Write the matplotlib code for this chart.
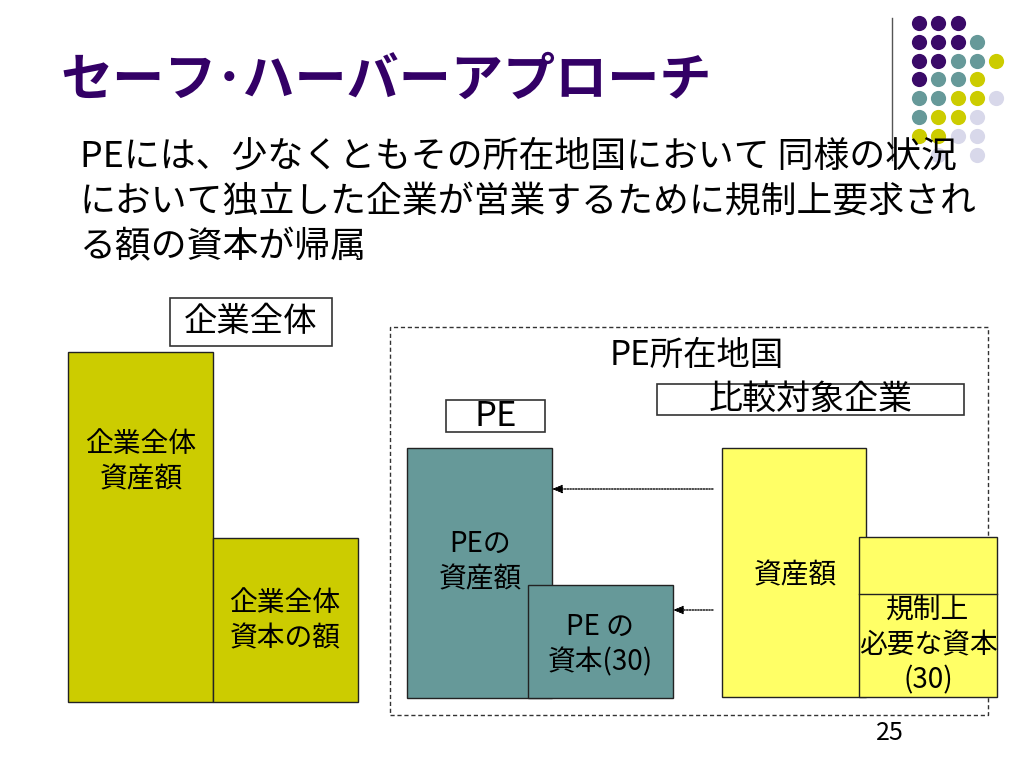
import matplotlib
matplotlib.use("Agg")
import matplotlib.pyplot as plt
from matplotlib.patches import Rectangle

plt.rcParams['font.family'] = ['Noto Sans CJK JP', 'DejaVu Sans']

# --- data -------------------------------------------------------------
title = "セーフ･ハーバーアプローチ"
body_lines = [
    "PEには、少なくともその所在地国において 同様の状況",
    "において独立した企業が営業するために規制上要求され",
    "る額の資本が帰属",
]

whole_header = "企業全体"
whole_labels = ["企業全体\n資産額", "企業全体\n資本の額"]
whole_values = [350, 164]

region_header = "PE所在地国"
pe_header = "PE"
pe_labels = ["PEの\n資産額", "PE の\n資本(30)"]
pe_values = [250, 113]

comp_header = "比較対象企業"
comp_labels = ["資産額", "規制上\n必要な資本\n(30)"]
comp_values = [249, 160]
required_capital = 103

page_number = "25"

# decoration dots: rows of colour codes (P purple, T teal, Y yellow, L lavender)
dot_rows = ["PPP..", "PPPT.", "PPTTY", "PTTY.", "TTYYL", "TYYL.", "YYLL.", ".L.L."]
dot_colors = {"P": "#3a0a68", "T": "#669999", "Y": "#cccc00", "L": "#d8d8ea"}

W, H = 1024, 768
OLIVE = "#cccc00"
TEAL = "#669999"
LEMON = "#ffff66"
PURPLE = "#330066"


def py(y):
    # slide pixel row -> axes y
    return H - y


fig = plt.figure(figsize=(10.24, 7.68), dpi=100)
ax = fig.add_axes([0, 0, 1, 1])
ax.set_xlim(0, W)
ax.set_ylim(0, H)
ax.axis("off")

# dots + vertical rule at top right
for r, row in enumerate(dot_rows):
    for c, code in enumerate(row):
        if code == ".":
            continue
        ax.scatter(919 + c * 19.3, py(23 + r * 18.8), s=120,
                   color=dot_colors[code], linewidths=0, zorder=1)
ax.plot([892, 892], [py(18), py(160)], color="#555555", lw=1)

# title and body
ax.text(60, py(80), title, fontsize=37.5, fontweight="bold", color=PURPLE,
        va="center", ha="left")
for i, line in enumerate(body_lines):
    ax.text(80, py(157 + i * 45), line, fontsize=25.8, va="center", ha="left",
            zorder=3)


def header_box(x0, x1, y0, y1, text, size):
    ax.add_patch(Rectangle((x0, py(y1)), x1 - x0, y1 - y0, fill=False,
                           ec="#333333", lw=1.2))
    ax.text((x0 + x1) / 2, py((y0 + y1) / 2), text, fontsize=size,
            ha="center", va="center")


def stacked_pair(x_left, widths, base, values, color, labels, label_pos):
    bars = ax.bar(x_left, values, width=widths, bottom=py(base), align="edge",
                  color=color, edgecolor="#222222", linewidth=1)
    for (lx, ly), lab in zip(label_pos, labels):
        ax.text(lx, py(ly), lab, fontsize=20, ha="center", va="center",
                linespacing=1.25)
    return bars


# whole enterprise
header_box(170, 332, 298, 346, whole_header, 24)
stacked_pair([68, 213], [145, 145], 702, whole_values, OLIVE, whole_labels,
             [(141, 462), (285, 621)])

# PE country frame
ax.add_patch(Rectangle((390, py(715)), 598, 715 - 327, fill=False,
                       ec="#333333", lw=1, ls=(0, (3, 2))))
ax.text(697, py(355), region_header, fontsize=24, ha="center", va="center")
header_box(446, 545, 400, 432, pe_header, 25)
header_box(657, 964, 384, 415, comp_header, 24.5)

# PE
stacked_pair([407, 528], [145, 145], 698, pe_values, TEAL, pe_labels,
             [(480, 562), (600, 645)])

# comparable enterprise
stacked_pair([722, 859], [144, 138], 697, comp_values, LEMON, comp_labels,
             [(795, 575), (928, 645)])
ax.plot([859, 997], [py(697) + required_capital] * 2, color="#222222", lw=1)

# dotted arrows
for y, x_end in [(489, 552), (610, 673)]:
    ax.annotate("", xy=(x_end, py(y)), xytext=(713, py(y)),
                arrowprops=dict(arrowstyle="-|>,head_length=0.6,head_width=0.25",
                                color="black", lw=1, ls=(0, (1, 1)),
                                shrinkA=0, shrinkB=0))

ax.text(890, py(733), page_number, fontsize=18, ha="center", va="center")

fig.savefig("out.png", dpi=100)
